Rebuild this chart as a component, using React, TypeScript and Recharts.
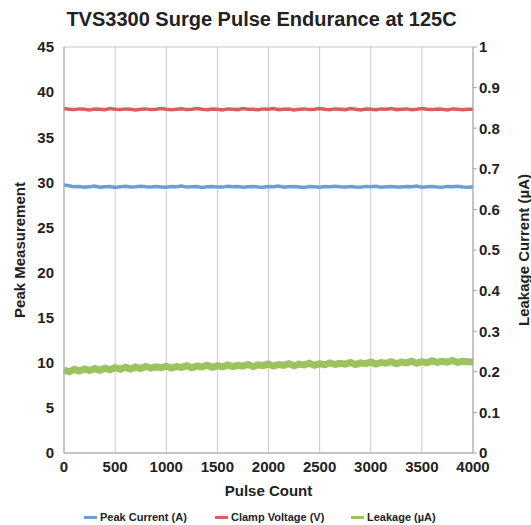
import React from 'react';
import { LineChart, Line, XAxis, YAxis, CartesianGrid } from 'recharts';

const pulses = Array.from({ length: 81 }, (_, i) => i * 50);

const peakCurrent = [
  29.7, 29.62, 29.5, 29.55, 29.47, 29.52, 29.58, 29.46, 29.5, 29.53,
  29.44, 29.5, 29.56, 29.48, 29.51, 29.57, 29.5, 29.47, 29.53, 29.49,
  29.46, 29.54, 29.51, 29.58, 29.47, 29.5, 29.53, 29.43, 29.5, 29.55,
  29.49, 29.47, 29.57, 29.51, 29.53, 29.46, 29.5, 29.55, 29.49, 29.46,
  29.54, 29.5, 29.58, 29.47, 29.51, 29.53, 29.49, 29.43, 29.54, 29.5,
  29.46, 29.53, 29.5, 29.57, 29.51, 29.47, 29.54, 29.49, 29.46, 29.55,
  29.5, 29.57, 29.46, 29.51, 29.54, 29.49, 29.47, 29.53, 29.5, 29.58,
  29.46, 29.5, 29.54, 29.49, 29.46, 29.55, 29.51, 29.57, 29.49, 29.46, 29.5,
];

const clampVoltage = [
  38.18, 38.1, 38.06, 38.14, 38.1, 38.02, 38.13, 38.09, 38.05, 38.17,
  38.1, 38.06, 38.14, 38.09, 38.03, 38.1, 38.14, 38.06, 38.1, 38.18,
  38.09, 38.05, 38.11, 38.15, 38.06, 38.1, 38.17, 38.09, 38.05, 38.13,
  38.1, 38.02, 38.14, 38.1, 38.06, 38.18, 38.1, 38.09, 38.05, 38.14,
  38.1, 38.17, 38.06, 38.1, 38.13, 38.03, 38.1, 38.14, 38.06, 38.1,
  38.18, 38.09, 38.05, 38.14, 38.1, 38.06, 38.17, 38.1, 38.02, 38.13,
  38.1, 38.05, 38.14, 38.09, 38.17, 38.06, 38.1, 38.14, 38.05, 38.1,
  38.18, 38.1, 38.06, 38.13, 38.1, 38.03, 38.14, 38.09, 38.05, 38.1, 38.1,
];

// leakage in µA, plotted against the right axis
const leakage = [
  0.204, 0.200, 0.206, 0.202, 0.207, 0.203, 0.208, 0.204, 0.209, 0.205,
  0.210, 0.206, 0.211, 0.207, 0.212, 0.208, 0.213, 0.209, 0.212, 0.210,
  0.214, 0.209, 0.213, 0.211, 0.215, 0.210, 0.214, 0.212, 0.216, 0.211,
  0.215, 0.212, 0.217, 0.213, 0.216, 0.214, 0.218, 0.213, 0.217, 0.215,
  0.219, 0.214, 0.218, 0.216, 0.220, 0.215, 0.219, 0.217, 0.221, 0.216,
  0.220, 0.217, 0.222, 0.218, 0.221, 0.219, 0.223, 0.218, 0.222, 0.220,
  0.224, 0.219, 0.223, 0.221, 0.225, 0.220, 0.224, 0.222, 0.226, 0.221,
  0.225, 0.222, 0.227, 0.223, 0.226, 0.224, 0.228, 0.223, 0.226, 0.225,
  0.224,
];

const xTicks = [0, 500, 1000, 1500, 2000, 2500, 3000, 3500, 4000];
const leftTicks = [0, 5, 10, 15, 20, 25, 30, 35, 40, 45];
const rightTicks = [0, 0.1, 0.2, 0.3, 0.4, 0.5, 0.6, 0.7, 0.8, 0.9, 1];

const seriesNames = ['Peak Current (A)', 'Clamp Voltage (V)', 'Leakage (µA)'];
const colors = ['#6a9ed8', '#d6605a', '#9cc35e'];

const rows = pulses.map((p, i) => ({
  pulse: p,
  current: peakCurrent[i],
  voltage: clampVoltage[i],
  leakage: leakage[i],
}));

const FONT = '"Liberation Sans", Arial, Helvetica, sans-serif';
const tickStyle = { fill: '#222', fontSize: 15, fontWeight: 700, fontFamily: FONT };

const SideLabel = ({ viewBox, text, cx }: any) => {
  const cy = viewBox.y + viewBox.height / 2;
  return (
    <text
      x={cx}
      y={cy}
      transform={`rotate(-90, ${cx}, ${cy})`}
      textAnchor="middle"
      dominantBaseline="central"
      fill="#222"
      fontSize={15}
      fontWeight={700}
      fontFamily={FONT}
    >
      {text}
    </text>
  );
};

function BottomLabel({ viewBox }: any) {
  const cx = viewBox.x + viewBox.width / 2;
  return (
    <text x={cx} y={viewBox.y + 37} textAnchor="middle" dominantBaseline="central" fill="#222" fontSize={15} fontWeight={700} fontFamily={FONT}>
      Pulse Count
    </text>
  );
}

export default function App() {
  return (
    <div style={{ position: 'absolute', left: 0, top: 0, width: 531, height: 525, background: '#fff', fontFamily: FONT }}>
      <div style={{ position: 'absolute', top: 8, left: 0, width: 523, textAlign: 'center', fontSize: 20, fontWeight: 700, color: '#222' }}>
        TVS3300 Surge Pulse Endurance at 125C
      </div>
      <LineChart width={531} height={525} data={rows} margin={{ top: 47, right: 0, bottom: 0, left: 0 }}>
        <CartesianGrid stroke="#c9c9c9" strokeWidth={1} />
        <XAxis
          dataKey="pulse"
          type="number"
          domain={[0, 4000]}
          ticks={xTicks}
          height={72}
          tickLine={false}
          tickSize={0}
          tickMargin={8}
          axisLine={{ stroke: '#a6a6a6' }}
          tick={tickStyle}
          interval={0}
          label={<BottomLabel />}
        />
        <YAxis
          yAxisId="left"
          width={64}
          domain={[0, 45]}
          ticks={leftTicks}
          tickLine={false}
          tickSize={0}
          tickMargin={10}
          axisLine={{ stroke: '#a6a6a6' }}
          tick={tickStyle}
          interval={0}
          label={<SideLabel text="Peak Measurement" cx={19} />}
        />
        <YAxis
          yAxisId="right"
          orientation="right"
          width={58}
          domain={[0, 1]}
          ticks={rightTicks}
          tickLine={{ stroke: '#a6a6a6' }}
          tickSize={4}
          tickMargin={2}
          axisLine={{ stroke: '#a6a6a6' }}
          tick={tickStyle}
          interval={0}
          label={<SideLabel text="Leakage Current (µA)" cx={523} />}
        />
        <Line yAxisId="left" dataKey="current" stroke={colors[0]} strokeWidth={3.5} dot={false} isAnimationActive={false} />
        <Line yAxisId="left" dataKey="voltage" stroke={colors[1]} strokeWidth={3.5} dot={false} isAnimationActive={false} />
        <Line yAxisId="right" dataKey="leakage" stroke={colors[2]} strokeWidth={7} dot={false} isAnimationActive={false} />
      </LineChart>
      <div style={{ position: 'absolute', top: 511, left: 0, width: 531, fontSize: 11, fontWeight: 700, color: '#222' }}>
        {seriesNames.map((n, i) => (
          <div key={n} style={{ position: 'absolute', left: [84, 215, 351][i], top: 0, display: 'flex', alignItems: 'center', whiteSpace: 'nowrap' }}>
            <span style={{ display: 'inline-block', width: 13, height: 3, background: colors[i], marginRight: 3 }} />
            {n}
          </div>
        ))}
      </div>
    </div>
  );
}
